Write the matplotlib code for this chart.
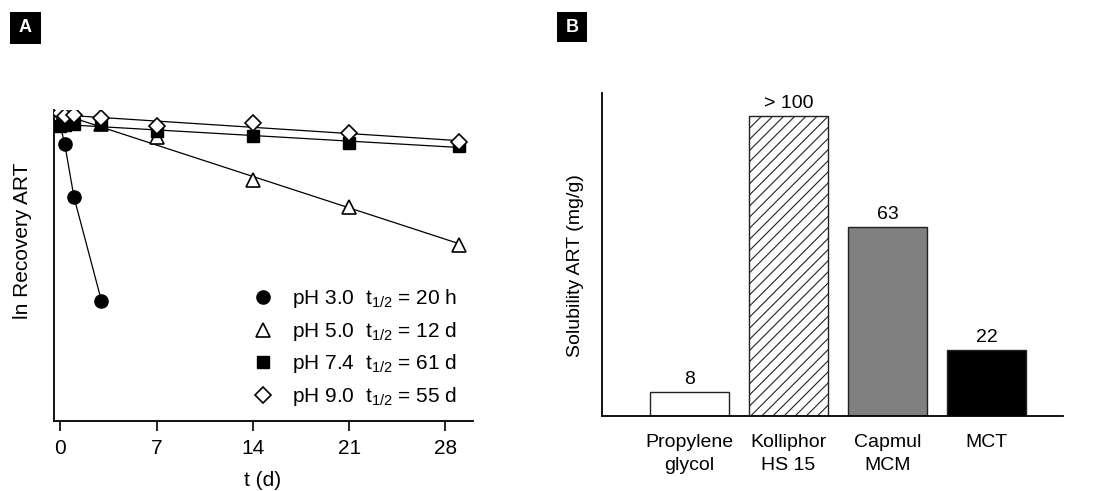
import numpy as np
import matplotlib
matplotlib.use("Agg")
import matplotlib.pyplot as plt
from matplotlib.lines import Line2D
from matplotlib.patches import Rectangle

plt.rcParams['font.family'] = ['Liberation Sans', 'DejaVu Sans']
plt.rcParams['mathtext.fontset'] = 'custom'
plt.rcParams['mathtext.rm'] = 'Liberation Sans'
plt.rcParams['mathtext.it'] = 'Liberation Sans'
plt.rcParams['hatch.linewidth'] = 0.8

# ---------------- Panel A data (ln recovery, arbitrary units) ----------------
t_ph3 = [0, 0.33, 1, 3]
y_ph3 = [4.505, 4.234, 3.476, 1.991]

t_ph5 = [0, 3, 7, 14, 21, 29]
y_ph5 = [4.562, 4.519, 4.334, 3.719, 3.334, 2.791]

t_ph74 = [0, 0.33, 1, 3, 7, 14, 21, 29]
y_ph74 = [4.491, 4.505, 4.519, 4.519, 4.419, 4.348, 4.248, 4.205]

t_ph9 = [0, 0.33, 1, 3, 7, 14, 21, 29]
y_ph9 = [4.676, 4.634, 4.648, 4.605, 4.491, 4.534, 4.391, 4.262]

legend_labels = [r'pH 3.0  t$_{\mathregular{1/2}}$ = 20 h',
                 r'pH 5.0  t$_{\mathregular{1/2}}$ = 12 d',
                 r'pH 7.4  t$_{\mathregular{1/2}}$ = 61 d',
                 r'pH 9.0  t$_{\mathregular{1/2}}$ = 55 d']
x_ticks_A = [0, 7, 14, 21, 28]

# ---------------- Panel B data ----------------
categories = ['Propylene\nglycol', 'Kolliphor\nHS 15', 'Capmul\nMCM', 'MCT']
solubility = [8, 100, 63, 22]
value_labels = ['8', '> 100', '63', '22']

W, H = 1096, 491
fig = plt.figure(figsize=(W / 100, H / 100), dpi=100)

def axes_px(l, t, r, b):
    return fig.add_axes([l / W, 1 - b / H, (r - l) / W, (b - t) / H])

FA = 15  # font size panel A
FB = 14  # font size panel B

# ---------------- Panel A ----------------
axA = axes_px(54, 110, 473, 421)
lw_spine = 1.3
for s in ['top', 'right']:
    axA.spines[s].set_visible(False)
for s in ['left', 'bottom']:
    axA.spines[s].set_linewidth(lw_spine)

line_kw = dict(color='black', lw=0.9)
# pH 3.0: connected points
axA.plot(t_ph3, y_ph3, **line_kw, zorder=2)
# other series: linear fits
for tt, yy in [(t_ph5, y_ph5), (t_ph74, y_ph74), (t_ph9, y_ph9)]:
    p = np.polyfit(tt, yy, 1)
    xs = np.array([min(tt), max(tt)])
    axA.plot(xs, np.polyval(p, xs), **line_kw, zorder=2)

axA.plot(t_ph3, y_ph3, 'o', ms=9.5, mfc='black', mec='black', ls='none', zorder=3)
axA.plot(t_ph5, y_ph5, '^', ms=10, mfc='white', mec='black', mew=1.2, ls='none', zorder=4)
axA.plot(t_ph74, y_ph74, 's', ms=8.5, mfc='black', mec='black', ls='none', zorder=5)
axA.plot(t_ph9, y_ph9, 'D', ms=8, mfc='white', mec='black', mew=1.2, ls='none', zorder=6)

axA.set_xlim(-0.45, 30)
axA.set_ylim(0.276, 4.719)
axA.set_xticks(x_ticks_A)
axA.set_yticks([])
axA.tick_params(axis='x', direction='out', length=7, width=1.2, labelsize=FA, pad=6)
axA.set_xlabel('t (d)', fontsize=FA)
axA.xaxis.set_label_coords((263 - 54) / 419, -(480 - 421) / 311)
axA.xaxis.label.set_va('center')
axA.set_ylabel('ln Recovery ART', fontsize=FA)
axA.yaxis.set_label_coords((23 - 54) / 419, (421 - 241) / 311)
axA.yaxis.label.set_va('center')

handles = [
    Line2D([], [], marker='o', ls='none', ms=9.5, mfc='black', mec='black'),
    Line2D([], [], marker='^', ls='none', ms=10, mfc='white', mec='black', mew=1.2),
    Line2D([], [], marker='s', ls='none', ms=8.5, mfc='black', mec='black'),
    Line2D([], [], marker='D', ls='none', ms=8, mfc='white', mec='black', mew=1.2),
]
axA.legend(handles, legend_labels, loc='lower right', bbox_to_anchor=(457 / W, 1 - 408 / H),
           bbox_transform=fig.transFigure, frameon=False, fontsize=FA,
           handlelength=1.0, handletextpad=0.9, labelspacing=0.46, borderpad=0,
           borderaxespad=0)

# ---------------- Panel B ----------------
axB = axes_px(602, 93, 1063, 416)
for s in ['top', 'right']:
    axB.spines[s].set_visible(False)
for s in ['left', 'bottom']:
    axB.spines[s].set_linewidth(lw_spine)

x = np.arange(len(categories))
faces = ['white', 'white', '#808080', 'black']
hatches = [None, '///', None, None]
for i in range(len(categories)):
    axB.bar(x[i], solubility[i], width=0.8, color=faces[i], edgecolor='#222222',
            linewidth=1.0, hatch=hatches[i], zorder=2)
    axB.text(x[i], solubility[i] + 1.5, value_labels[i], ha='center', va='bottom', fontsize=FB)

axB.set_xlim(-0.884, 3.77)
axB.set_ylim(0, 107.7)
axB.set_xticks(x)
axB.set_xticklabels(categories, fontsize=FB, linespacing=1.45)
axB.set_yticks([])
axB.tick_params(axis='x', length=0, pad=13)
axB.set_ylabel('Solubility ART (mg/g)', fontsize=FB)
axB.yaxis.set_label_coords((575 - 602) / 461, (416 - 266) / 323)
axB.yaxis.label.set_va('center')

# ---------------- Panel labels ----------------
for (l, t, r, b), lab in [((10, 12, 41, 44), 'A'), ((557, 12, 587, 42), 'B')]:
    fig.add_artist(Rectangle((l / W, 1 - b / H), (r - l) / W, (b - t) / H,
                             transform=fig.transFigure, fc='black', ec='none'))
    fig.text((l + r) / 2 / W, 1 - (t + b) / 2 / H, lab, color='white', fontsize=13,
             fontweight='bold', ha='center', va='center')

fig.savefig('out.png', dpi=100)
